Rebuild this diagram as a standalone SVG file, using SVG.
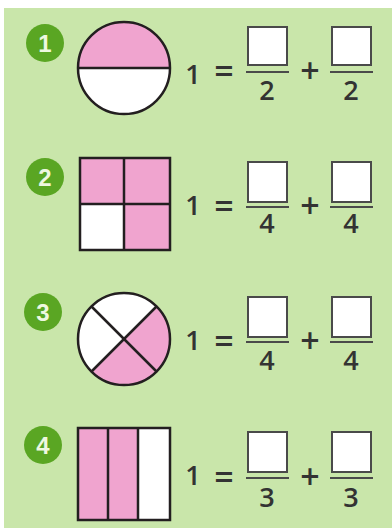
<svg xmlns="http://www.w3.org/2000/svg" width="392" height="531" viewBox="0 0 392 531">
<style>
.bg{fill:#c9e6aa}
.badge{fill:#5aa623}
.bn{font-family:"Liberation Sans",Arial,sans-serif;font-weight:bold;font-size:24px;fill:#eef8e0;text-anchor:middle}
.shape{stroke:#231f20;stroke-width:2.5;fill:none}
.pink{fill:#f0a4cf}
.white{fill:#ffffff}
.t{font-family:"Open Sans","Liberation Sans",sans-serif;font-size:27px;font-weight:600;fill:#333333;text-anchor:middle}
.op{font-family:"Open Sans","Liberation Sans",sans-serif;font-size:34px;font-weight:600;fill:#333333;text-anchor:middle}
.box{fill:#ffffff;stroke:#4a4a4a;stroke-width:2}
.fl{stroke:#4a4a4a;stroke-width:2}
</style>
<rect width="392" height="531" fill="#ffffff"/>
<rect class="bg" x="4" y="8" width="388" height="520"/>

<g id="p1">
<circle class="badge" cx="45" cy="43" r="19"/>
<text class="bn" x="45" y="51.500">1</text>
<circle class="white" cx="124" cy="68" r="46"/>
<path class="pink" d="M78 68 A46 46 0 0 1 170 68 Z"/>
<circle class="shape" cx="124" cy="68" r="46"/>
<line class="shape" x1="78" y1="68" x2="170" y2="68"/>
<text class="t" x="193" y="84">1</text>
<text class="op" x="224" y="83">=</text>
<rect class="box" x="248" y="27" width="39" height="38"/>
<line class="fl" x1="246" y1="72" x2="289" y2="72"/>
<text class="t" x="267" y="100">2</text>
<text class="op" x="310" y="83">+</text>
<rect class="box" x="332" y="27" width="39" height="38"/>
<line class="fl" x1="330" y1="72" x2="373" y2="72"/>
<text class="t" x="351" y="100">2</text>
</g>

<g id="p2">
<circle class="badge" cx="45" cy="177" r="19"/>
<text class="bn" x="45" y="185.500">2</text>
<rect class="pink" x="80" y="158" width="90" height="92"/>
<rect class="white" x="80" y="204" width="44" height="46"/>
<rect class="shape" x="80" y="158" width="90" height="92"/>
<line class="shape" x1="124" y1="158" x2="124" y2="250"/>
<line class="shape" x1="80" y1="204" x2="170" y2="204"/>
<text class="t" x="193" y="215">1</text>
<text class="op" x="224" y="218">=</text>
<rect class="box" x="248" y="162" width="39" height="40"/>
<line class="fl" x1="246" y1="207" x2="289" y2="207"/>
<text class="t" x="267" y="233">4</text>
<text class="op" x="310" y="218">+</text>
<rect class="box" x="332" y="162" width="39" height="40"/>
<line class="fl" x1="330" y1="207" x2="373" y2="207"/>
<text class="t" x="351" y="233">4</text>
</g>

<g id="p3">
<circle class="badge" cx="43" cy="312" r="19"/>
<text class="bn" x="43" y="320.500">3</text>
<circle class="white" cx="124" cy="339" r="46"/>
<path class="pink" d="M124 339 L156.5 306.5 A46 46 0 0 1 156.5 371.5 A46 46 0 0 1 91.5 371.5 Z"/>
<circle class="shape" cx="124" cy="339" r="46"/>
<line class="shape" x1="91.5" y1="306.5" x2="156.5" y2="371.5"/>
<line class="shape" x1="156.5" y1="306.5" x2="91.5" y2="371.5"/>
<text class="t" x="193" y="350">1</text>
<text class="op" x="224" y="353">=</text>
<rect class="box" x="248" y="297" width="39" height="40"/>
<line class="fl" x1="246" y1="342" x2="289" y2="342"/>
<text class="t" x="267" y="370">4</text>
<text class="op" x="310" y="353">+</text>
<rect class="box" x="332" y="297" width="39" height="40"/>
<line class="fl" x1="330" y1="342" x2="373" y2="342"/>
<text class="t" x="351" y="370">4</text>
</g>

<g id="p4">
<circle class="badge" cx="43" cy="445" r="19"/>
<text class="bn" x="43" y="453.500">4</text>
<rect class="pink" x="78" y="428" width="60" height="92"/>
<rect class="white" x="138" y="428" width="32" height="92"/>
<rect class="shape" x="78" y="428" width="92" height="92"/>
<line class="shape" x1="108" y1="428" x2="108" y2="520"/>
<line class="shape" x1="138" y1="428" x2="138" y2="520"/>
<text class="t" x="193" y="485">1</text>
<text class="op" x="224" y="489">=</text>
<rect class="box" x="248" y="432" width="39" height="40"/>
<line class="fl" x1="246" y1="478" x2="289" y2="478"/>
<text class="t" x="267" y="507">3</text>
<text class="op" x="310" y="489">+</text>
<rect class="box" x="332" y="432" width="39" height="40"/>
<line class="fl" x1="330" y1="478" x2="373" y2="478"/>
<text class="t" x="351" y="507">3</text>
</g>
</svg>
